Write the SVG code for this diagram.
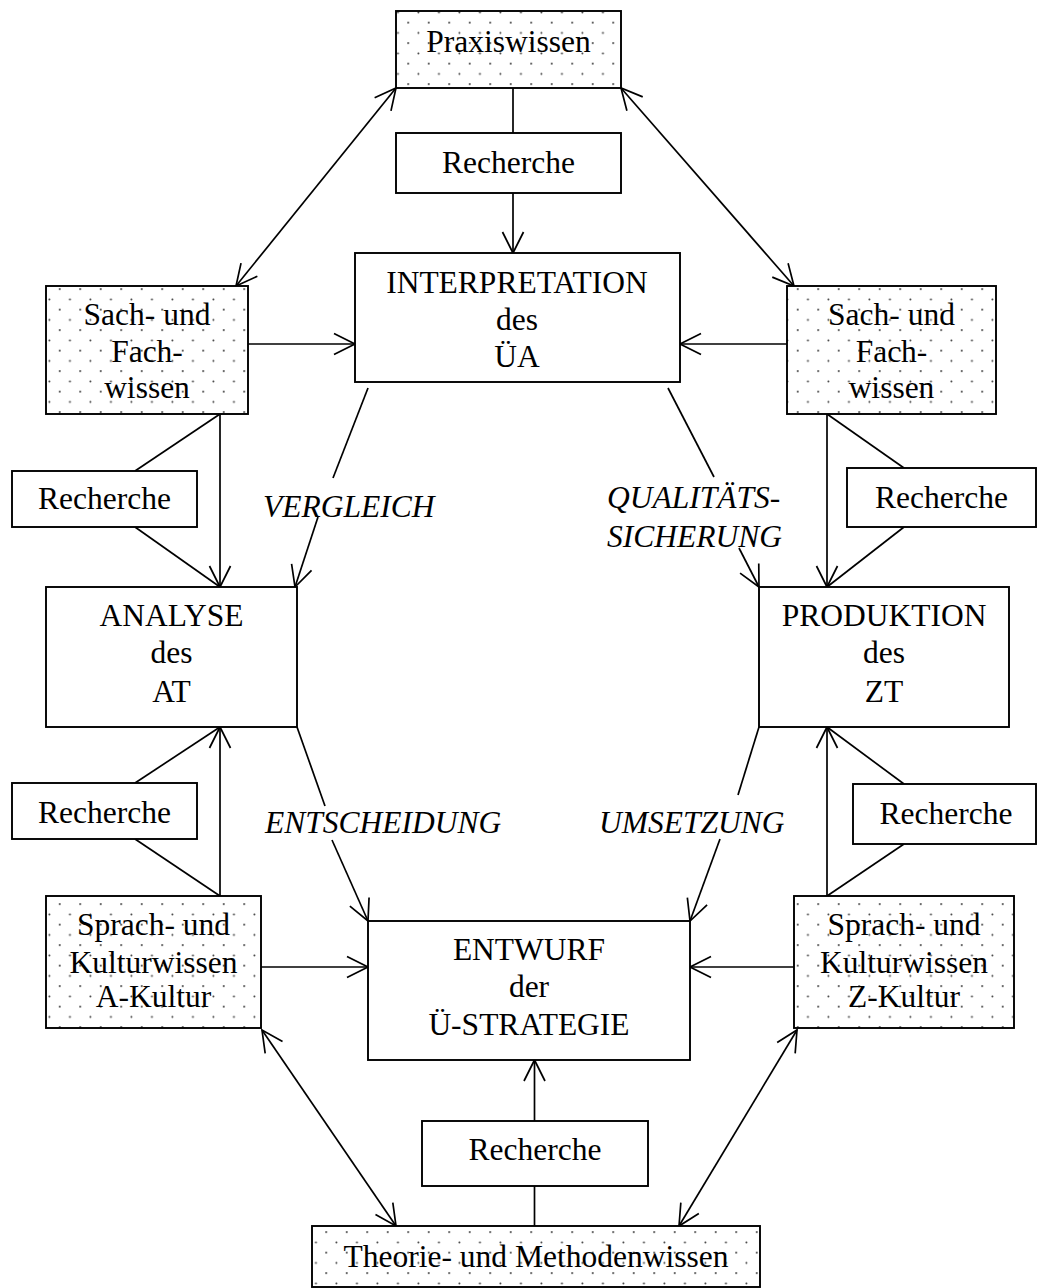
<svg xmlns="http://www.w3.org/2000/svg" width="1039" height="1288" viewBox="0 0 1039 1288">
<defs>
<pattern id="dots" patternUnits="userSpaceOnUse" width="20.5" height="20.5" x="17.8" y="1.2">
<rect width="20.5" height="20.5" fill="#fff"/>
<circle cx="0.9" cy="0.9" r="1" fill="#444"/>
<circle cx="11.15" cy="11.15" r="1" fill="#444"/>
</pattern>
<marker id="ah" viewBox="-23 -12 25 24" markerWidth="25" markerHeight="24" refX="0" refY="0" markerUnits="userSpaceOnUse" orient="auto-start-reverse">
<path d="M-21,-10.5 L0,0 L-21,10.5" fill="none" stroke="#000" stroke-width="1.7"/>
</marker>
<style>
.box{fill:#fff;stroke:#000;stroke-width:1.9}
.dot{fill:url(#dots);stroke:#000;stroke-width:1.9}
text{font-family:"Liberation Serif","Times New Roman",serif;font-size:31.5px;fill:#000}
.c{text-anchor:middle}
.it{font-style:italic}
#connectors line{stroke:#000;stroke-width:1.7;fill:none}
.a{marker-end:url(#ah)}
.aa{marker-start:url(#ah);marker-end:url(#ah)}
</style>
</defs>
<rect width="1039" height="1288" fill="#fff"/>

<g id="connectors">
<line class="aa" x1="396" y1="88" x2="236" y2="286"/>
<line class="aa" x1="621" y1="88" x2="794" y2="286"/>
<line x1="513" y1="88" x2="513" y2="133"/>
<line class="a" x1="513" y1="193" x2="513" y2="253"/>
<line class="a" x1="248" y1="344" x2="355" y2="344"/>
<line class="a" x1="787" y1="344" x2="680" y2="344"/>
<line class="a" x1="220" y1="414" x2="220" y2="587"/>
<line x1="220" y1="414" x2="135" y2="471"/>
<line x1="135" y1="527" x2="220" y2="587"/>
<line x1="368" y1="388" x2="333" y2="478"/>
<line class="a" x1="318" y1="517" x2="295" y2="587"/>
<line x1="668" y1="388" x2="714" y2="477"/>
<line class="a" x1="739" y1="548" x2="759" y2="587"/>
<line class="a" x1="827" y1="414" x2="827" y2="587"/>
<line x1="827" y1="414" x2="904" y2="468"/>
<line x1="904" y1="527" x2="827" y2="587"/>
<line class="a" x1="220" y1="896" x2="220" y2="727"/>
<line x1="220" y1="727" x2="135" y2="783"/>
<line x1="135" y1="839" x2="220" y2="896"/>
<line x1="297" y1="727" x2="325" y2="806"/>
<line class="a" x1="332" y1="840" x2="368" y2="921"/>
<line x1="759" y1="727" x2="738" y2="795"/>
<line class="a" x1="720" y1="839" x2="690" y2="921"/>
<line class="a" x1="827" y1="896" x2="827" y2="727"/>
<line x1="827" y1="727" x2="904" y2="784"/>
<line x1="904" y1="844" x2="827" y2="896"/>
<line class="a" x1="261" y1="967" x2="368" y2="967"/>
<line class="a" x1="794" y1="967" x2="690" y2="967"/>
<line class="a" x1="534.5" y1="1121" x2="534.5" y2="1060"/>
<line x1="534.5" y1="1186" x2="534.5" y2="1226"/>
<line class="aa" x1="262" y1="1030" x2="396" y2="1226"/>
<line class="aa" x1="797" y1="1030" x2="679" y2="1226"/>
<text class="it" x="263" y="517">VERGLEICH</text>
<text class="it" x="607" y="508">QUALITÄTS-</text>
<text class="it" x="607" y="547">SICHERUNG</text>
<text class="it" x="265" y="833">ENTSCHEIDUNG</text>
<text class="it" x="599" y="833">UMSETZUNG</text>
</g>

<g id="praxiswissen">
<rect class="dot" x="396" y="11" width="225" height="77"/>
<text class="c" x="508.5" y="52">Praxiswissen</text>
</g>
<g id="recherche-top">
<rect class="box" x="396" y="133" width="225" height="60"/>
<text class="c" x="508.5" y="173">Recherche</text>
</g>
<g id="interpretation">
<rect class="box" x="355" y="253" width="325" height="129"/>
<text class="c" x="517" y="293">INTERPRETATION</text>
<text class="c" x="517" y="330">des</text>
<text class="c" x="517" y="367">ÜA</text>
</g>
<g id="sach-left">
<rect class="dot" x="46" y="286" width="202" height="128"/>
<text class="c" x="147" y="325">Sach- und</text>
<text class="c" x="147" y="362">Fach-</text>
<text class="c" x="147" y="398">wissen</text>
</g>
<g id="sach-right">
<rect class="dot" x="787" y="286" width="209" height="128"/>
<text class="c" x="891.5" y="325">Sach- und</text>
<text class="c" x="891.5" y="362">Fach-</text>
<text class="c" x="891.5" y="398">wissen</text>
</g>
<g id="recherche-left-top">
<rect class="box" x="12" y="471" width="185" height="56"/>
<text class="c" x="104.5" y="509">Recherche</text>
</g>
<g id="recherche-right-top">
<rect class="box" x="847" y="468" width="189" height="59"/>
<text class="c" x="941.5" y="508">Recherche</text>
</g>
<g id="analyse">
<rect class="box" x="46" y="587" width="251" height="140"/>
<text class="c" x="171.5" y="626">ANALYSE</text>
<text class="c" x="171.5" y="663">des</text>
<text class="c" x="171.5" y="702">AT</text>
</g>
<g id="produktion">
<rect class="box" x="759" y="587" width="250" height="140"/>
<text class="c" x="884" y="626">PRODUKTION</text>
<text class="c" x="884" y="663">des</text>
<text class="c" x="884" y="702">ZT</text>
</g>
<g id="recherche-left-bottom">
<rect class="box" x="12" y="783" width="185" height="56"/>
<text class="c" x="104.5" y="823">Recherche</text>
</g>
<g id="recherche-right-bottom">
<rect class="box" x="853" y="784" width="183" height="60"/>
<text class="c" x="946" y="824">Recherche</text>
</g>
<g id="sprach-a">
<rect class="dot" x="46" y="896" width="215" height="132"/>
<text class="c" x="153.5" y="935">Sprach- und</text>
<text class="c" x="153.5" y="973">Kulturwissen</text>
<text class="c" x="153.5" y="1007">A-Kultur</text>
</g>
<g id="sprach-z">
<rect class="dot" x="794" y="896" width="220" height="132"/>
<text class="c" x="904" y="935">Sprach- und</text>
<text class="c" x="904" y="973">Kulturwissen</text>
<text class="c" x="904" y="1007">Z-Kultur</text>
</g>
<g id="entwurf">
<rect class="box" x="368" y="921" width="322" height="139"/>
<text class="c" x="529" y="960">ENTWURF</text>
<text class="c" x="529" y="997">der</text>
<text class="c" x="529" y="1035">Ü-STRATEGIE</text>
</g>
<g id="recherche-bottom">
<rect class="box" x="422" y="1121" width="226" height="65"/>
<text class="c" x="535" y="1160">Recherche</text>
</g>
<g id="theorie">
<rect class="dot" x="312" y="1226" width="448" height="61"/>
<text class="c" x="536" y="1267">Theorie- und Methodenwissen</text>
</g>
</svg>
